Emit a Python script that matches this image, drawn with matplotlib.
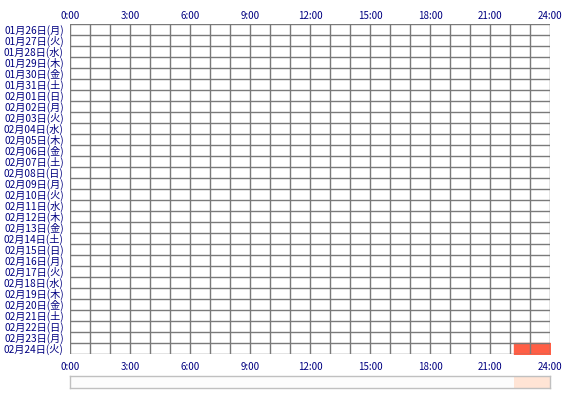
import matplotlib
matplotlib.use("Agg")
import matplotlib.pyplot as plt

plt.rcParams["font.family"] = ["Noto Sans CJK JP", "DejaVu Sans"]

NAVY = "#000080"; GRIS = "#7A7A7A"; ROJO = "#FF5E45"; MELOCOTON = "#FFE4D5"

fechas = ["01月26日(月)", "01月27日(火)", "01月28日(水)", "01月29日(木)", "01月30日(金)",
          "01月31日(土)", "02月01日(日)", "02月02日(月)", "02月03日(火)", "02月04日(水)",
          "02月05日(木)", "02月06日(金)", "02月07日(土)", "02月08日(日)", "02月09日(月)",
          "02月10日(火)", "02月11日(水)", "02月12日(木)", "02月13日(金)", "02月14日(土)",
          "02月15日(日)", "02月16日(月)", "02月17日(火)", "02月18日(水)", "02月19日(木)",
          "02月20日(金)", "02月21日(土)", "02月22日(日)", "02月23日(月)", "02月24日(火)"]
horas = [0, 3, 6, 9, 12, 15, 18, 21, 24]
etiquetas_horas = ["0:00", "3:00", "6:00", "9:00", "12:00", "15:00", "18:00", "21:00", "24:00"]
# actividad: (indice del dia, hora inicio, hora fin)
actividad_dia = [29]
actividad_ini = [22.2]
actividad_fin = [24.0]

W, H = 570, 400
fig = plt.figure(figsize=(W / 100, H / 100), dpi=100)
n = len(fechas)

# ── rejilla principal ──
ax = fig.add_axes([70 / W, (H - 354) / H, 480 / W, 330 / H])
ax.set_xlim(0, 24); ax.set_ylim(n, 0)
for d, a, b in zip(actividad_dia, actividad_ini, actividad_fin):
    ax.broken_barh([(a, b - a)], (d, 1), color=ROJO, zorder=1)
for h in range(25):
    ax.axvline(h, color=GRIS, lw=1.0, zorder=2)
for r in range(n + 1):
    ax.axhline(r, color=GRIS, lw=1.0, zorder=2)
for s in ax.spines.values():
    s.set_visible(False)
ax.set_yticks([i + 0.5 for i in range(n)])
ax.set_yticklabels(fechas, color=NAVY, fontsize=7.3)
ax.tick_params(axis="y", length=0, pad=4.5)
ax.set_xticks(horas)
ax.set_xticklabels(etiquetas_horas, color=NAVY, fontsize=7)
ax.tick_params(axis="x", length=0, pad=5.5)

arriba = ax.secondary_xaxis("top")
arriba.set_xticks(horas)
arriba.set_xticklabels(etiquetas_horas, color=NAVY, fontsize=7)
arriba.tick_params(length=0, pad=2)
arriba.spines["top"].set_visible(False)

# ── barra resumen inferior ──
bx = fig.add_axes([70 / W, (H - 388) / H, 480 / W, 12 / H])
bx.set_xlim(0, 24); bx.set_ylim(0, 1)
bx.set_facecolor("#FCFCFC")
for a, b in zip(actividad_ini, actividad_fin):
    bx.axvspan(a, b, color=MELOCOTON, lw=0)
for s in bx.spines.values():
    s.set_color("#C0C0C0"); s.set_linewidth(1.0)
bx.set_xticks([]); bx.set_yticks([])

fig.savefig("out.png", dpi=100)
